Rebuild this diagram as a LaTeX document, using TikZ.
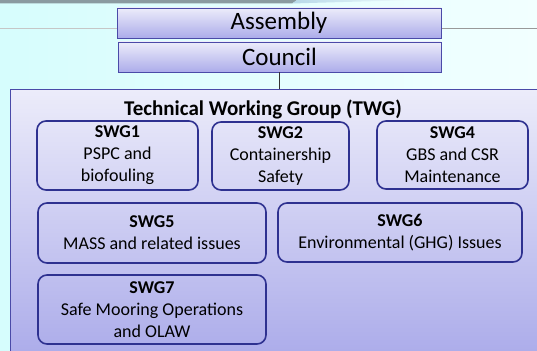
\documentclass[tikz,border=0pt]{standalone}
\usepackage{fontspec}
\setmainfont{Carlito}
\usetikzlibrary{shadows}
\definecolor{bgL}{HTML}{D6FDFD}
\definecolor{bgR}{HTML}{F2FFFF}
\definecolor{boxtop}{HTML}{ECECFA}
\definecolor{boxbot}{HTML}{ACACEA}
\definecolor{boxline}{HTML}{4A4AA8}
\definecolor{swgline}{HTML}{2E3190}
\definecolor{barc}{HTML}{8A9AA0}
\definecolor{swoosh}{HTML}{B8D8E8}
\tikzset{
  x=1pt, y=-1pt,
  topbox/.style={draw=boxline, line width=0.9pt, top color=boxtop, bottom color=boxbot,
    inner sep=0pt, font=\fontsize{25}{28}\selectfont, text=black},
  swg/.style={draw=swgline, line width=1.6pt, rounded corners=9pt, inner sep=0pt,
    align=center, font=\fontsize{18}{22}\selectfont, text=black},
  grid/.style={draw=boxline, line width=0.8pt, top color=boxtop, bottom color=boxbot}
}
\begin{document}
\begin{tikzpicture}
\useasboundingbox (0,0) rectangle (537,350);
% background
\shade[left color=bgL, right color=bgR] (0,0) rectangle (537,350);
% top swoosh
\fill[barc] (0,0) -- (297,0) -- (292,3.5) -- (0,3.5) -- cycle;
\shade[left color=swoosh, right color=bgR] (297,0) -- (420,0) .. controls (360,1.5) .. (292,3.5) -- cycle;
% horizontal rule
\draw[gray!45, line width=0.7pt] (0,28) -- (118,28);
\draw[gray!80, line width=0.7pt] (441,28) -- (537,28);
% TWG box
\node[grid, minimum width=540pt, minimum height=265pt, inner sep=0pt, anchor=north west] (twg) at (10,89) {};
\node[font=\bfseries\fontsize{21}{24}\selectfont] (title) at (263,109) {Technical Working Group (TWG)};
% top boxes
\node[topbox, minimum width=324pt, minimum height=30pt] (assembly) at (279,23) {Assembly};
\node[topbox, minimum width=323pt, minimum height=30pt, drop shadow={shadow xshift=0.8pt, shadow yshift=-0.8pt, opacity=0.3}] (council) at (279.5,57) {Council};
\draw[black!80, line width=0.7pt] (council.south -| 279,0) -- (279,89);
% SWG boxes
\node[swg, minimum width=161pt, minimum height=69pt] (swg1) at (117.5,155.5) {\textbf{SWG1}\\PSPC and\\biofouling};
\node[swg, minimum width=137pt, minimum height=68pt] (swg2) at (280.5,156) {\textbf{SWG2}\\Containership\\Safety};
\node[swg, minimum width=151pt, minimum height=68pt] (swg4) at (452.5,155) {\textbf{SWG4}\\GBS and CSR\\Maintenance};
\node[swg, minimum width=228pt, minimum height=60pt] (swg5) at (152,233) {\textbf{SWG5}\\MASS and related issues};
\node[swg, minimum width=244pt, minimum height=59pt] (swg6) at (400,232.5) {\textbf{SWG6}\\Environmental (GHG) Issues};
\node[swg, minimum width=228pt, minimum height=69pt] (swg7) at (152,309.5) {\textbf{SWG7}\\Safe Mooring Operations\\and OLAW};
\end{tikzpicture}
\end{document}
